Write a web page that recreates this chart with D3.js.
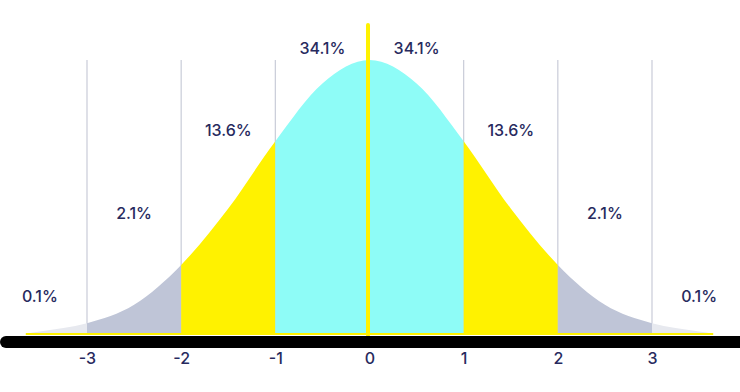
<!DOCTYPE html>
<html>
<head>
<meta charset="utf-8">
<script src="https://cdn.jsdelivr.net/npm/d3@7"></script>
<style>
  body { margin: 0; background: #fff; }
  svg { display: block; font-family: Inter, "Noto Sans", sans-serif; }
</style>
</head>
<body>
<div id="chart"></div>
<script>
var svgWidth = 740;
var svgHeight = 392;

// curve heights (relative to peak)
var curveX = [-3.65, -3.5, -3, -2.5, -2, -1.5, -1, -0.5, 0, 0.5, 1, 1.5, 2, 2.5, 3, 3.5, 3.65];
var curveY = [0.005, 0.013, 0.043, 0.11, 0.255, 0.46, 0.705, 0.915, 1, 0.915, 0.705, 0.46, 0.255, 0.11, 0.043, 0.013, 0.005];

// bands between sigma marks
var bandStart = [-3.65, -3, -2, -1, 0, 1, 2, 3];
var bandEnd = [-3, -2, -1, 0, 1, 2, 3, 3.65];
var bandColors = ["#e7e9ef", "#bfc5d7", "#fff200", "#8efcf7", "#8efcf7", "#fff200", "#bfc5d7", "#e7e9ef"];

// percentage labels per band
var bandLabels = ["0.1%", "2.1%", "13.6%", "34.1%", "34.1%", "13.6%", "2.1%", "0.1%"];
var labelCenters = [-3.5, -2.5, -1.5, -0.5, 0.5, 1.5, 2.5, 3.5];

var tickValues = [-3, -2, -1, 0, 1, 2, 3];
var tickLabels = ["-3", "-2", "-1", "0", "1", "2", "3"];
var gridValues = [-3, -2, -1, 1, 2, 3];

var svg = d3.select("#chart")
  .append("svg")
    .attr("width", svgWidth)
    .attr("height", svgHeight);

var x = d3.scaleLinear()
  .domain([-3, 3])
  .range([87, 652]);
var y = d3.scaleLinear()
  .domain([0, 1])
  .range([335, 60]);

var points = curveX.map((d, i) => [d, curveY[i]]);

var area = d3.area()
  .x(d => x(d[0]))
  .y0(y(0))
  .y1(d => y(d[1]))
  .curve(d3.curveMonotoneX);

// grid lines behind the curve
svg.append("g").selectAll("line")
  .data(gridValues)
  .enter()
  .append("line")
    .attr("x1", d => x(d))
    .attr("x2", d => x(d))
    .attr("y1", y(1))
    .attr("y2", y(0))
    .attr("stroke", "#c9ccd8")
    .attr("stroke-width", 1.2);

var defs = svg.append("defs");
bandStart.forEach((s, i) => {
  defs.append("clipPath")
    .attr("id", "band" + i)
    .append("rect")
      .attr("x", x(s))
      .attr("y", 0)
      .attr("width", x(bandEnd[i]) - x(s))
      .attr("height", svgHeight);
});

svg.append("g").selectAll("path")
  .data(bandStart)
  .enter()
  .append("path")
    .attr("d", area(points))
    .attr("clip-path", (d, i) => "url(#band" + i + ")")
    .attr("fill", (d, i) => bandColors[i]);

// thin yellow line along the base
svg.append("line")
  .attr("x1", x(-3.65))
  .attr("x2", x(3.65))
  .attr("y1", y(0) - 1)
  .attr("y2", y(0) - 1)
  .attr("stroke", "#fff200")
  .attr("stroke-width", 2);

// mean line
svg.append("line")
  .attr("x1", x(0) - 1.5)
  .attr("x2", x(0) - 1.5)
  .attr("y1", 25)
  .attr("y2", y(0))
  .attr("stroke", "#fff200")
  .attr("stroke-width", 4)
  .attr("stroke-linecap", "round");

// thick black baseline
svg.append("rect")
  .attr("x", 0)
  .attr("y", y(0) + 1)
  .attr("width", svgWidth + 20)
  .attr("height", 12)
  .attr("rx", 6)
  .attr("fill", "#000");

var axis = d3.axisBottom(x)
  .tickValues(tickValues)
  .tickSize(0)
  .tickPadding(5)
  .tickFormat((d, i) => tickLabels[i]);

var axisG = svg.append("g")
  .attr("transform", `translate(0, ${y(0) + 13})`)
  .call(axis);
axisG.select(".domain").remove();
axisG.selectAll("text")
  .attr("font-family", "Inter, 'Noto Sans', sans-serif")
  .attr("font-size", "16px")
  .attr("font-weight", 500)
  .attr("fill", "#272a5e");

svg.append("g").selectAll("text")
  .data(bandLabels)
  .enter()
  .append("text")
    .text(d => d)
    .attr("x", (d, i) => x(labelCenters[i]))
    .attr("y", (d, i) => {
      var level = 3.5 - Math.abs(labelCenters[i]);
      return 296 - level * 82.6;
    })
    .attr("dy", "0.35em")
    .attr("text-anchor", "middle")
    .attr("font-size", "16px")
    .attr("font-weight", 500)
    .attr("fill", "#272a5e");
</script>
</body>
</html>
